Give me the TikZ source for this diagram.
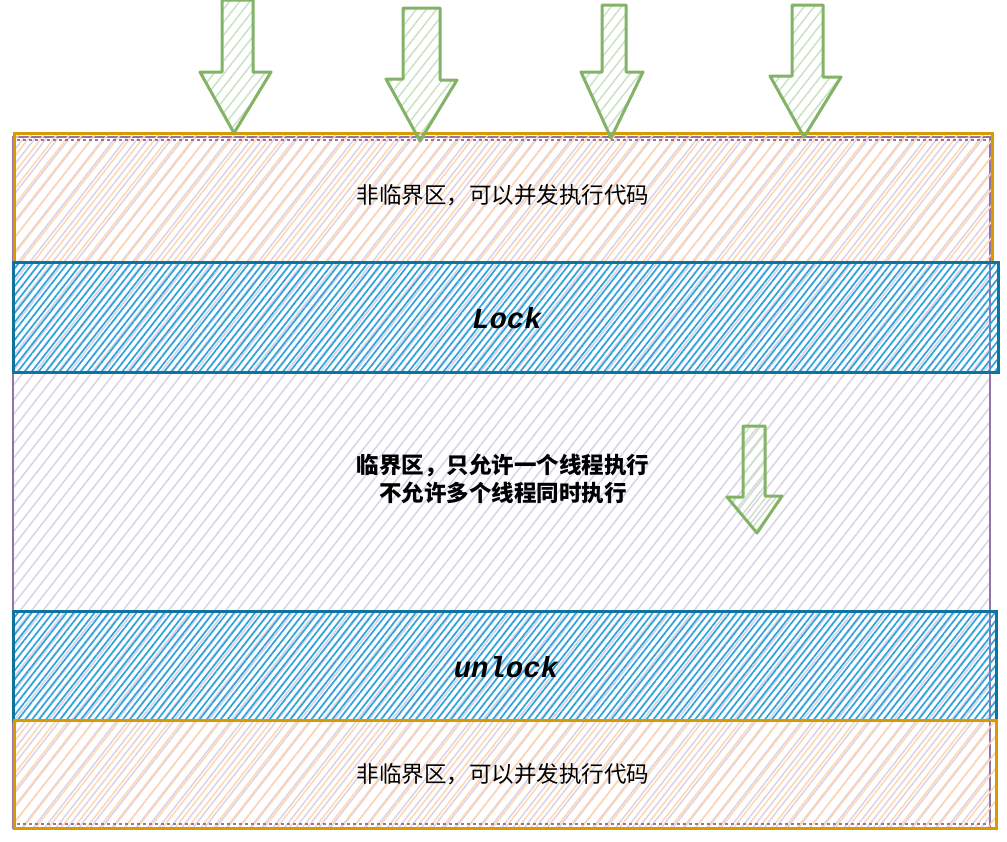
\documentclass[tikz,border=0pt]{standalone}
\usepackage{fontspec}
\newfontfamily\cjk{Noto Sans CJK SC}
\newfontfamily\monofont{Liberation Mono}
\usetikzlibrary{patterns.meta}
\definecolor{orS}{HTML}{D79B00}
\definecolor{orH}{HTML}{FFD6B0}
\definecolor{puS}{HTML}{9673A6}
\definecolor{puH}{HTML}{DCD2E8}
\definecolor{blS}{HTML}{10739E}
\definecolor{blH}{HTML}{2EA4DF}
\definecolor{grS}{HTML}{82B366}
\definecolor{grH}{HTML}{C6E2C0}
\tikzset{
  purplebox/.style={draw=puS, line width=2pt, pattern={Lines[angle=52,distance=9pt,line width=1.5pt]}, pattern color=puH},
  orangebox/.style={draw=orS, line width=3pt, pattern={Lines[angle=52,distance=10pt,line width=1.5pt]}, pattern color=orH},
  bluebox/.style={draw=blS, line width=3pt, pattern={Lines[angle=52,distance=5.5pt,line width=1.7pt]}, pattern color=blH},
  greenarrow/.style={draw=grS, line width=3pt, line join=round, pattern={Lines[angle=52,distance=8pt,line width=1.4pt]}, pattern color=grH},
  normaltext/.style={font=\cjk\fontsize{22.5}{28}\selectfont, text=black, align=center},
  boldtext/.style={font=\cjk\bfseries\fontsize{22.5}{28}\selectfont, text=black, align=center},
  codetext/.style={font=\monofont\bfseries\itshape\fontsize{29}{32}\selectfont, text=black}
}
\begin{document}
\begin{tikzpicture}[x=1pt,y=-1pt]
\useasboundingbox[fill=white] (0,0) rectangle (1007,841);
% big purple region
\path[purplebox] (13,137) rectangle (990,828);
% top non-critical
\path[orangebox] (14,133) rectangle (992,262);
% Lock band
\path[bluebox] (13,262) rectangle (998,372);
% unlock band
\path[bluebox] (13,611) rectangle (996,720);
% bottom non-critical
\path[orangebox] (14,720) rectangle (996,828);
% purple outline seen through the hatching
\draw[puS, line width=1.4pt, dashed] (17,140) -- (988,140);
\draw[puS, line width=1.4pt, dashed] (17,824) -- (990,824);

% texts
\node[normaltext] (top) at (503,195) {非临界区，可以并发执行代码};
\node[codetext] (lock) at (507,318) {Lock};
\node[boldtext] (crit) at (503,479) {临界区，只允许一个线程执行\\不允许多个线程同时执行};
\node[codetext] (unlock) at (506,667) {unlock};
\node[normaltext] (bottom) at (503,774) {非临界区，可以并发执行代码};

% green arrows at the top
\path[greenarrow] (222,0) -- (253,0) -- (253,72) -- (271,72) -- (234,133) -- (200,72) -- (222,72) -- cycle;
\path[greenarrow] (403,8) -- (440,8) -- (440,80) -- (457,80) -- (420,141) -- (386,79) -- (403,79) -- cycle;
\path[greenarrow] (602,5) -- (626,5) -- (626,72) -- (643,72) -- (611,138) -- (581,72) -- (602,72) -- cycle;
\path[greenarrow] (792,5) -- (823,5) -- (823,77) -- (841,77) -- (804,137) -- (770,76) -- (792,76) -- cycle;
% small arrow in the critical section
\path[greenarrow] (743,426) -- (765,426) -- (765,496) -- (782,496) -- (757,533) -- (727,497) -- (743,497) -- cycle;
\end{tikzpicture}
\end{document}
